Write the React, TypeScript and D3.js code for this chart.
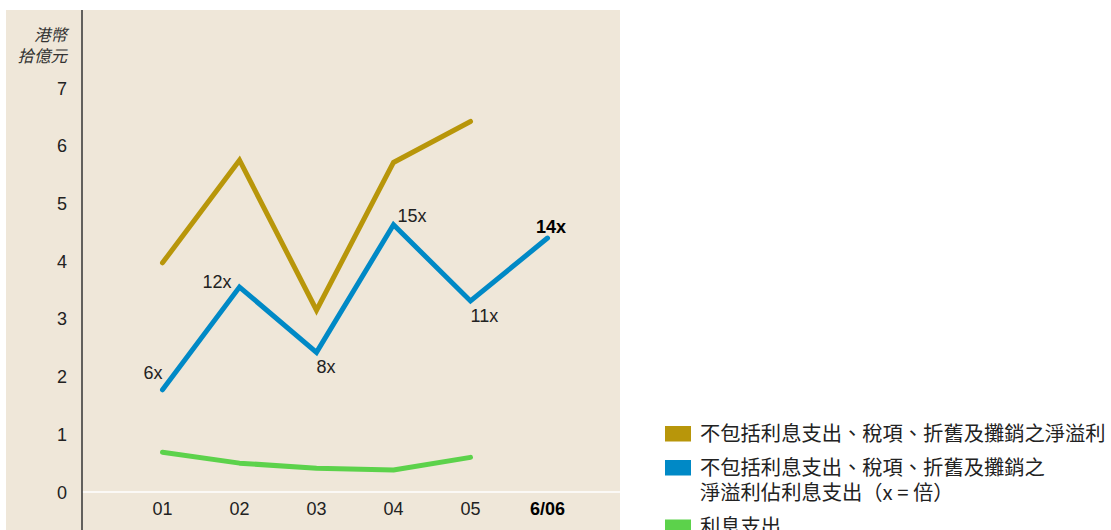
import React from "react";
import * as d3 from "d3";

const categories = ["01", "02", "03", "04", "05", "6/06"];
const ebitda = [3.97, 5.75, 3.15, 5.71, 6.42];
const coverage = [1.77, 3.55, 2.42, 4.63, 3.31, 4.4];
const coverageLabels = ["6x", "12x", "8x", "15x", "11x", "14x"];
const interest = [0.69, 0.5, 0.41, 0.38, 0.6];
const yTicks = [0, 1, 2, 3, 4, 5, 6, 7];
const unitLabel = ["港幣", "拾億元"];
const legendItems = [
  { color: "#b8960a", lines: ["不包括利息支出、稅項、折舊及攤銷之淨溢利"] },
  { color: "#0089c6", lines: ["不包括利息支出、稅項、折舊及攤銷之", "淨溢利佔利息支出（x = 倍）"] },
  { color: "#5cd24b", lines: ["利息支出"] },
];

const W = 1111;
const H = 530;
const LATIN = "'Liberation Sans', Arial, sans-serif";
const CJK = "'Noto Sans CJK TC', 'Noto Sans CJK SC', sans-serif";

// label offsets relative to the data point (dx, dy, anchor)
const labelPos: [number, number, string][] = [
  [0, -11, "end"],
  [-8, 1, "end"],
  [0, 21, "start"],
  [4, -3, "start"],
  [0, 21, "start"],
  [3.5, -5.5, "middle"],
];

export default function App() {
  const x = d3.scalePoint<string>().domain(categories).range([162.5, 547.5]);
  const y = d3.scaleLinear().domain([0, 7]).range([492, 88]);
  const line = d3
    .line<number>()
    .x((_, i) => x(categories[i]) as number)
    .y((d) => y(d));

  const axisX = 82;
  const legendLine = 25.5;
  const legendGap = 34;
  return (
    <svg width={W} height={H} style={{ position: "absolute", left: 0, top: 0 }}>
      <rect x={6} y={10} width={614} height={H - 10} fill="#efe7d9" />
      <line x1={axisX} x2={620} y1={y(0)} y2={y(0)} stroke="#ffffff" strokeWidth={1.5} />
      <line x1={axisX} x2={axisX} y1={10} y2={H} stroke="#333" strokeWidth={1.5} />
      {unitLabel.map((t, i) => (
        <text
          key={t}
          x={67}
          y={41 + i * 21}
          textAnchor="end"
          fontFamily={CJK}
          fontSize={16.5}
          fontStyle="italic"
          fill="#333"
        >
          {t}
        </text>
      ))}
      {yTicks.map((t) => (
        <text key={t} x={67} y={y(t) + 6.5} textAnchor="end" fontFamily={LATIN} fontSize={18} fill="#222">
          {t}
        </text>
      ))}
      {categories.map((c, i) => (
        <text
          key={c}
          x={x(c)}
          y={515}
          textAnchor="middle"
          fontFamily={LATIN}
          fontSize={18}
          fontWeight={i === categories.length - 1 ? "bold" : "normal"}
          fill={i === categories.length - 1 ? "#000" : "#222"}
        >
          {c}
        </text>
      ))}
      <path d={line(ebitda) || ""} fill="none" stroke="#b8960a" strokeWidth={5} strokeLinecap="round" strokeLinejoin="miter" />
      <path d={line(coverage) || ""} fill="none" stroke="#0089c6" strokeWidth={5} strokeLinecap="round" strokeLinejoin="miter" />
      <path d={line(interest) || ""} fill="none" stroke="#5cd24b" strokeWidth={5} strokeLinecap="round" strokeLinejoin="round" />
      {coverageLabels.map((l, i) => {
        const [dx, dy, anchor] = labelPos[i];
        const last = i === coverageLabels.length - 1;
        return (
          <text
            key={l}
            x={(x(categories[i]) as number) + dx}
            y={y(coverage[i]) + dy}
            textAnchor={anchor as any}
            fontFamily={LATIN}
            fontSize={18}
            fontWeight={last ? "bold" : "normal"}
            fill={last ? "#000" : "#222"}
          >
            {l}
          </text>
        );
      })}
      {(() => {
        let cy = 433; // center of the first text line of each item
        return legendItems.map((it, k) => {
          const c = cy;
          cy += (it.lines.length - 1) * legendLine + legendGap;
          return (
            <g key={k}>
              <rect x={665} y={c - 7} width={26} height={15.5} fill={it.color} />
              {it.lines.map((ln, j) => (
                <text key={j} x={700} y={c + 7.5 + j * legendLine} fontFamily={CJK} fontSize={20.3} fill="#222">
                  {ln}
                </text>
              ))}
            </g>
          );
        });
      })()}
    </svg>
  );
}
